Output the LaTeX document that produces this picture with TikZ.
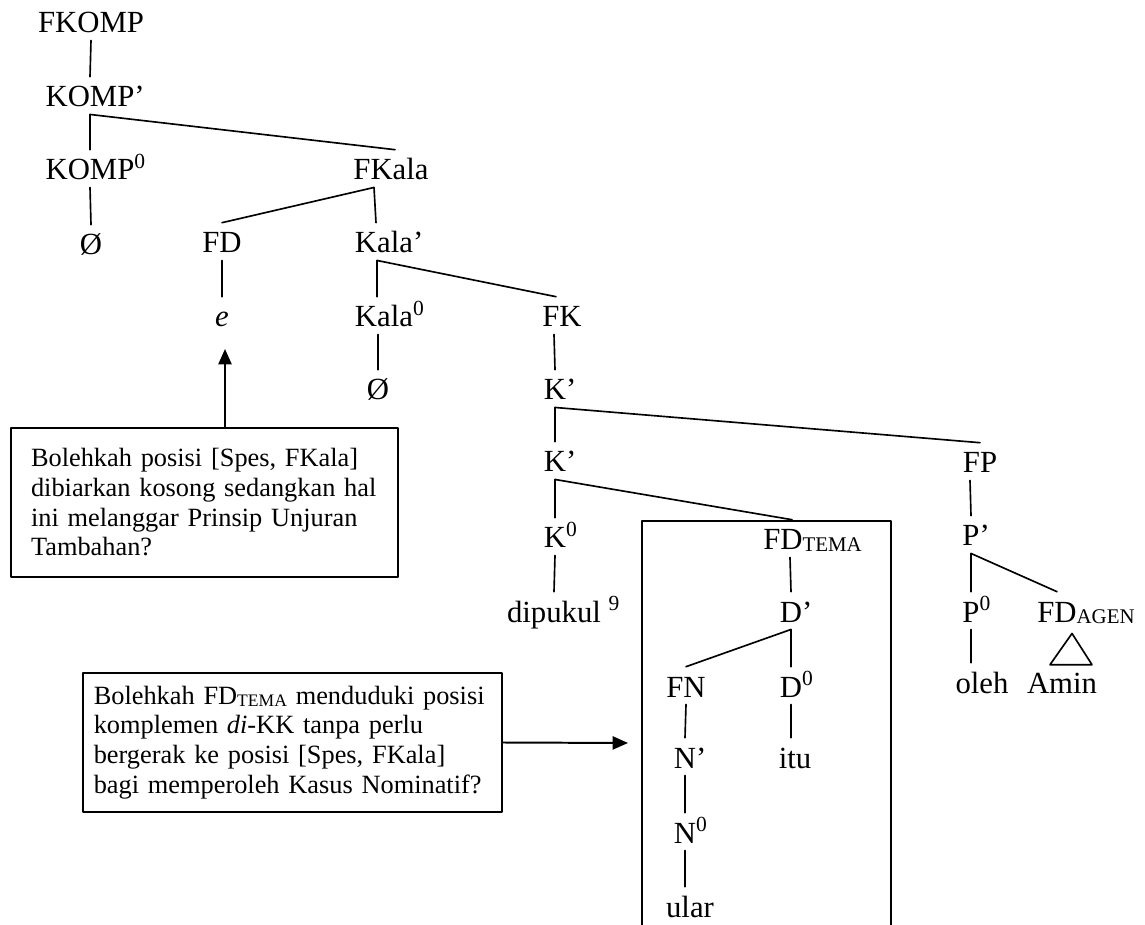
\documentclass[tikz,border=0pt]{standalone}
\usepackage{fontspec}
\setmainfont{Liberation Serif}
\usetikzlibrary{calc,arrows.meta}
\newcommand{\tagsub}[2]{\raisebox{-0.8pt}{\fontsize{#1}{#1}\selectfont #2}}
\begin{document}
\begin{tikzpicture}[x=0.016cm,y=-0.016cm,line cap=round,line join=round,
  cat/.style={font=\fontsize{14}{16}\selectfont,anchor=base,inner xsep=1pt,
    inner ysep=0pt,text height=13.6pt,text depth=3.2pt},
  branch/.style={line width=0.75pt},
  note/.style={draw,line width=0.9pt,align=left,font=\fontsize{12}{13.5}\selectfont},
  pointer/.style={line width=0.9pt,-{Triangle[length=7pt,width=6pt]}}]
  \useasboundingbox (0,0) rectangle (1145,925);
  % Upper part of the tree.
  \node[cat] (fkomp) at (91,33) {FKOMP};
  \node[cat] (kompp) at (90,107) {KOMP\rlap{’}};
  \node[cat] (kompz) at (90,180) {KOMP\rlap{\textsuperscript{0}}};
  \node[cat] (nullkomp) at (91,255) {Ø};
  \node[cat] (fkala) at (391,180) {FKala};
  \node[cat] (fd) at (222,253) {FD};
  \node[cat] (kalap) at (384,253) {Kala\rlap{’}};
  \node[cat] (e) at (222,327) {\textit{e}};
  \node[cat] (kalaz) at (384,327) {Kala\rlap{\textsuperscript{0}}};
  \node[cat] (nullkala) at (378,400) {Ø};
  \node[cat] (fk) at (562,327) {FK};
  \node[cat] (kpa) at (555,400) {K\rlap{’}};
  \node[cat] (kpb) at (555,472) {K\rlap{’}};
  \node[cat] (fp) at (980,473) {FP};
  \node[cat] (kz) at (555,548) {K\rlap{\textsuperscript{0}}};
  \node[cat] (dipukul) at (554,622) {dipukul\rlap{ \textsuperscript{9}}};
  \draw[branch] (fkomp.south) -- (kompp.north);
  \draw[branch] (kompp.south) -- (kompz.north);
  \draw[branch] (kompp.south) -- ($(fkala.north)+(4,0)$);
  \draw[branch] (kompz.south) -- (nullkomp.north);
  \draw[branch] ($(fkala.south)+(-17,0)$) -- (fd.north);
  \draw[branch] ($(fkala.south)+(-17,0)$) -- ($(kalap.north)+(-8,0)$);
  \draw[branch] (fd.south) -- (e.north);
  \draw[branch] ($(kalap.south)+(-7,0)$) -- ($(kalaz.north)+(-7,0)$);
  \draw[branch] ($(kalap.south)+(-7,0)$) -- ($(fk.north)+(-6,0)$);
  \draw[branch] ($(kalaz.south)+(-6,0)$) -- (nullkala.north);
  \draw[branch] ($(fk.south)+(-8,0)$) -- (kpa.north);
  \draw[branch] (kpa.south) -- (kpb.north);
  \draw[branch] (kpa.south) -- (fp.north);
  \draw[branch] (kpb.south) -- (kz.north);
  \draw[branch] (kz.south) -- (dipukul.north);
  % FD_TEMA inside its frame.
  \node[draw,line width=0.9pt,anchor=north west,inner sep=0pt,
    minimum width=113.4pt,minimum height=195pt] (temabox) at (641,520) {};
  \node[cat] (fdtema) at (783,550) {FD\rlap{\tagsub{9.5}{TEMA}}};
  \node[cat] (dp) at (791,622) {D\rlap{’}};
  \node[cat] (fn) at (686,697) {FN};
  \node[cat] (dz) at (791,697) {D\rlap{\textsuperscript{0}}};
  \node[cat] (np) at (685,768) {N\rlap{’}};
  \node[cat] (itu) at (795,768) {itu};
  \node[cat] (nz) at (685,843) {N\rlap{\textsuperscript{0}}};
  \node[cat] (ular) at (690,917) {ular};
  \draw[branch] (kpb.south) -- ($(fdtema.north)+(9,0)$);
  \draw[branch] ($(fdtema.south)+(7,0)$) -- (dp.north);
  \draw[branch] (dp.south) -- (fn.north);
  \draw[branch] (dp.south) -- (dz.north);
  \draw[branch] (fn.south) -- (np.north);
  \draw[branch] (dz.south) -- (dz.south |- itu.north);
  \draw[branch] (np.south) -- (nz.north);
  \draw[branch] (nz.south) -- (nz.south |- ular.north);
  % FP branch.
  \node[cat] (pp) at (971,546) {P\rlap{’}};
  \node[cat] (pz) at (971,622) {P\rlap{\textsuperscript{0}}};
  \node[cat] (fdagen) at (1057,622) {FD\rlap{\tagsub{9.5}{AGEN}}};
  \node[cat] (oleh) at (982,693) {oleh};
  \node[cat] (amin) at (1062,693) {Amin};
  \draw[branch] ($(fp.south)+(-10,0)$) -- (pp.north);
  \draw[branch] (pp.south) -- (pz.north);
  \draw[branch] (pp.south) -- (fdagen.north);
  \draw[branch] (pz.south) -- (pz.south |- oleh.north);
  \draw[branch] ($(fdagen.south)+(15,4)$) -- ($(amin.north)+(-12,2)$)
    -- ($(amin.north)+(30,2)$) -- cycle;
  % Question boxes and their arrows.
  \node[note,text width=158pt,inner xsep=9pt,minimum height=67.6pt] (qspes)
    at (204.5,502.5) {Bolehkah posisi [Spes, FKala]\\ dibiarkan kosong sedangkan hal\\
    ini melanggar Prinsip Unjuran\\ Tambahan?};
  \node[note,text width=181pt,inner xsep=5pt,minimum height=63pt] (qtema)
    at (292.5,742.5) {Bolehkah FD\tagsub{8}{TEMA} menduduki posisi\\
    komplemen \textit{di}-KK tanpa perlu\\ bergerak ke posisi [Spes, FKala]\\
    bagi memperoleh Kasus Nominatif?};
  \coordinate (etip) at (225,349);
  \coordinate (ttip) at (628,743);
  \draw[pointer] (qspes.north -| etip) -- (etip);
  \draw[pointer] (qtema.east) -- (ttip);
\end{tikzpicture}
\end{document}
